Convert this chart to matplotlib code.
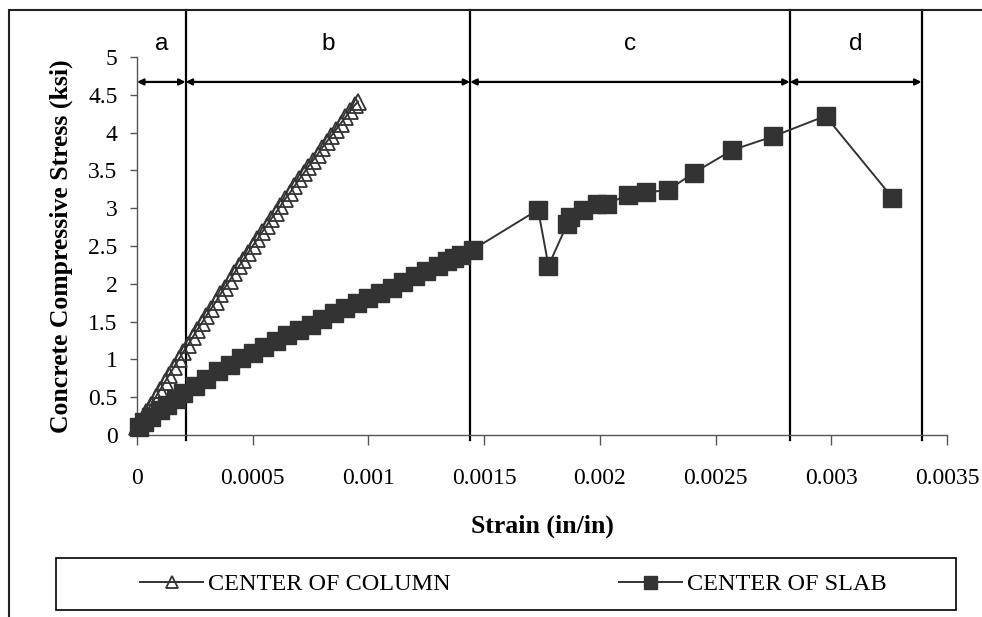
import matplotlib
matplotlib.use("Agg")
import matplotlib.pyplot as plt
from matplotlib.patches import Rectangle

# data
col_strain = [0.0, 0.00002, 0.00004, 0.00006, 0.00008, 0.0001, 0.00012, 0.00014, 0.00016, 0.00018,
              0.0002, 0.00022, 0.00024, 0.00026, 0.00028, 0.0003, 0.00032, 0.00034, 0.00036, 0.00038,
              0.0004, 0.00042, 0.00044, 0.00046, 0.00048, 0.0005, 0.00052, 0.00054, 0.00056, 0.00058,
              0.0006, 0.00062, 0.00064, 0.00066, 0.00068, 0.0007, 0.00072, 0.00074, 0.00076, 0.00078,
              0.0008, 0.00082, 0.00084, 0.00086, 0.00088, 0.0009, 0.00092, 0.00094, 0.000955]
col_stress = [0.10, 0.20, 0.30, 0.40, 0.50, 0.60, 0.70, 0.80, 0.90, 1.00,
              1.10, 1.19, 1.29, 1.39, 1.48, 1.58, 1.67, 1.76, 1.86, 1.95,
              2.04, 2.14, 2.23, 2.32, 2.41, 2.50, 2.59, 2.68, 2.77, 2.86,
              2.94, 3.03, 3.12, 3.20, 3.29, 3.38, 3.46, 3.55, 3.63, 3.71,
              3.80, 3.88, 3.96, 4.04, 4.12, 4.20, 4.28, 4.36, 4.41]

slab_strain = [0.00001, 0.00003, 0.00006, 0.0001, 0.00013, 0.00017, 0.0002, 0.00025, 0.0003, 0.00035,
               0.0004, 0.00045, 0.0005, 0.00055, 0.0006, 0.00065, 0.0007, 0.00075, 0.0008, 0.00085,
               0.0009, 0.00095, 0.001, 0.00105, 0.0011, 0.00115, 0.0012, 0.00125, 0.0013, 0.00134,
               0.00137, 0.0014, 0.00145,
               0.001733, 0.001778, 0.001859, 0.001873, 0.001925, 0.001986, 0.002029, 0.00212, 0.002199,
               0.002295, 0.002407, 0.002573, 0.002749, 0.002975, 0.003264]
slab_stress = [0.10, 0.17, 0.24, 0.33, 0.40, 0.48, 0.56, 0.65, 0.74, 0.84,
               0.93, 1.02, 1.09, 1.17, 1.24, 1.32, 1.39, 1.46, 1.53, 1.61,
               1.68, 1.75, 1.81, 1.88, 1.95, 2.03, 2.10, 2.17, 2.24, 2.30,
               2.34, 2.38, 2.45,
               2.98, 2.24, 2.79, 2.89, 2.98, 3.06, 3.06, 3.17, 3.21,
               3.24, 3.47, 3.77, 3.95, 4.22, 3.14]

# stage boundaries (strain) and names
stage_edges = [0.0, 0.00021, 0.00144, 0.00282, 0.00339]
stage_names = ['a', 'b', 'c', 'd']
arrow_level = 4.67

xticks = [0, 0.0005, 0.001, 0.0015, 0.002, 0.0025, 0.003, 0.0035]
xtick_labels = ['0', '0.0005', '0.001', '0.0015', '0.002', '0.0025', '0.003', '0.0035']
yticks = [0, 0.5, 1, 1.5, 2, 2.5, 3, 3.5, 4, 4.5, 5]
ytick_labels = ['0', '0.5', '1', '1.5', '2', '2.5', '3', '3.5', '4', '4.5', '5']

serif = 'Liberation Serif'
dark = '#333333'

fig = plt.figure(figsize=(9.82, 6.17), dpi=100)
ax = fig.add_axes([137 / 982, 1 - 435 / 617, 810 / 982, 378 / 617])

ax.plot(col_strain, col_stress, color=dark, lw=1.4, marker='^', ms=11.5,
        mfc='none', mec=dark, mew=1.3, label='CENTER OF COLUMN', clip_on=False, zorder=3)
ax.plot(slab_strain, slab_stress, color=dark, lw=1.4, marker='s', ms=13,
        mfc=dark, mec=dark, label='CENTER OF SLAB', clip_on=False, zorder=3)

ax.set_xlim(0, 0.0035)
ax.set_ylim(0, 5)
ax.set_xticks(xticks)
ax.set_xticklabels(xtick_labels, fontsize=17, family=serif)
ax.set_yticks(yticks)
ax.set_yticklabels(ytick_labels, fontsize=17, family=serif)
ax.tick_params(axis='x', direction='out', length=7, width=1, pad=17, color='#555555')
ax.tick_params(axis='y', direction='out', length=5, width=1, pad=9, color='#555555')
for s in ['top', 'right']:
    ax.spines[s].set_visible(False)
for s in ['left', 'bottom']:
    ax.spines[s].set_color('#555555')
    ax.spines[s].set_linewidth(1)

ax.set_xlabel('Strain (in/in)', fontsize=18.5, family=serif, fontweight='bold', labelpad=18)
ax.set_ylabel('Concrete Compressive Stress (ksi)', fontsize=18.5, family=serif,
              fontweight='bold', labelpad=11)

# stage boundary lines, arrows and labels
trans = ax.get_xaxis_transform()
for x in stage_edges[1:]:
    ax.plot([x, x], [-0.013, 1.124], transform=trans, color='black', lw=1.6, clip_on=False)
for i, name in enumerate(stage_names):
    x0, x1 = stage_edges[i], stage_edges[i + 1]
    ax.annotate('', xy=(x0, arrow_level), xytext=(x1, arrow_level),
                arrowprops=dict(arrowstyle='<|-|>', color='black', lw=1.6,
                                mutation_scale=9, shrinkA=0, shrinkB=0),
                annotation_clip=False)
    ax.text((x0 + x1) / 2, 1.035, name, transform=trans, ha='center', va='center',
            fontsize=17.5, family='Liberation Sans')

# outer frame
fig.patches.append(Rectangle((9 / 982, -0.1), 1.1, 1 - 10 / 617 + 0.1, transform=fig.transFigure,
                             fill=False, edgecolor='#222222', lw=1.5))

# legend box
fig.patches.append(Rectangle((56 / 982, 1 - 610 / 617), 900 / 982, 52 / 617,
                             transform=fig.transFigure, fill=False, edgecolor='black', lw=1.2))
handles, labels = ax.get_legend_handles_labels()
fig.legend(handles, labels, loc='center left', bbox_to_anchor=(128 / 982, 1 - 584 / 617),
           ncol=2, frameon=False, borderpad=0, handlelength=2.6, handletextpad=0.2,
           columnspacing=6.9, markerscale=0.72, prop={'family': serif, 'size': 17.5})

fig.savefig('out.png', dpi=100)
